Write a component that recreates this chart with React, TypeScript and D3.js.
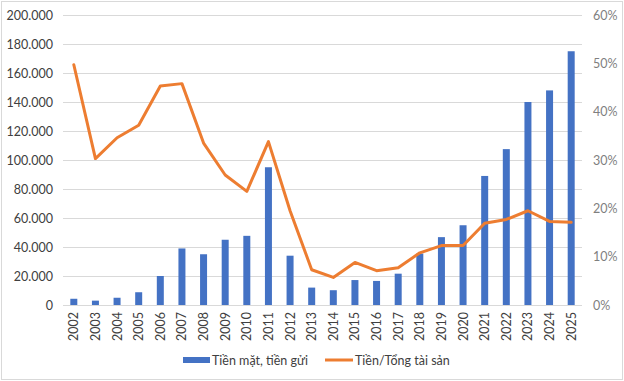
import React from "react";
import * as d3 from "d3";

const years = ["2002","2003","2004","2005","2006","2007","2008","2009","2010","2011","2012","2013","2014","2015","2016","2017","2018","2019","2020","2021","2022","2023","2024","2025"];
const cashValues = [4300, 3000, 5000, 8800, 20000, 39000, 35000, 45000, 47700, 95000, 34000, 12000, 10200, 17200, 16600, 21600, 35500, 46800, 55000, 89000, 107500, 140000, 148000, 175000];
const ratioValues = [49.7, 30.3, 34.6, 37.2, 45.3, 45.8, 33.5, 26.9, 23.5, 33.8, 19.5, 7.3, 5.7, 8.8, 7.1, 7.7, 10.8, 12.3, 12.3, 16.9, 17.7, 19.5, 17.3, 17.1];
const leftTicks = [0, 20000, 40000, 60000, 80000, 100000, 120000, 140000, 160000, 180000, 200000];
const rightTicks = [0, 10, 20, 30, 40, 50, 60];
const barLabel = "Tiền mặt, tiền gửi";
const lineLabel = "Tiền/Tổng tài sản";

const W = 624, H = 381;
const left = 63, right = 582, top = 15, bottom = 305;
const font = "Lato, 'Open Sans', sans-serif";

export default function App() {
  const x = d3.scaleBand<string>().domain(years).range([left, right]).paddingInner(0).paddingOuter(0);
  const yL = d3.scaleLinear().domain([0, 200000]).range([bottom, top]);
  const yR = d3.scaleLinear().domain([0, 60]).range([bottom, top]);
  const bw = 7;
  const fmt = (v: number) => d3.format(",")(v).replace(/,/g, ".");
  const line = d3.line<number>()
    .x((_, i) => (x(years[i]) as number) + x.bandwidth() / 2)
    .y((d) => yR(d));
  return (
    <svg width={W} height={H} style={{ position: "absolute", left: 0, top: 0 }}>
      <rect x={0} y={0} width={W} height={H} fill="#fff" />
      <rect x={1.5} y={1.5} width={W - 3} height={H - 3} fill="none" stroke="#D9D9D9" strokeWidth={1} />
      {leftTicks.map((t) => (
        <line key={"g" + t} x1={left} x2={right} y1={Math.round(yL(t)) + 0.5} y2={Math.round(yL(t)) + 0.5} stroke="#D9D9D9" strokeWidth={1} />
      ))}
      {leftTicks.map((t) => (
        <text key={"l" + t} x={53} y={yL(t) + 4.5} textAnchor="end" fontFamily={font} fontSize={12.5} fill="#404040">{fmt(t)}</text>
      ))}
      {rightTicks.map((t) => (
        <text key={"r" + t} x={593} y={yR(t) + 4.5} textAnchor="start" fontFamily={font} fontSize={12.5} fill="#7F7F7F">{t + "%"}</text>
      ))}
      {years.map((yr, i) => (
        <rect key={"b" + yr} x={(x(yr) as number) + x.bandwidth() / 2 - bw / 2} y={yL(cashValues[i])} width={bw} height={bottom - yL(cashValues[i])} fill="#4472C4" />
      ))}
      <path d={line(ratioValues) || ""} fill="none" stroke="#ED7D31" strokeWidth={3} strokeLinejoin="round" strokeLinecap="round" />
      {years.map((yr) => {
        const cx = (x(yr) as number) + x.bandwidth() / 2;
        return (
          <text key={"x" + yr} transform={`translate(${cx + 4.5},${312}) rotate(-90)`} textAnchor="end" fontFamily={font} fontSize={12.5} fill="#404040">{yr}</text>
        );
      })}
      <rect x={183} y={357} width={27} height={6} fill="#4472C4" />
      <text x={212} y={365} fontFamily={font} fontSize={12.5} fill="#404040">{barLabel}</text>
      <line x1={325} x2={353} y1={360} y2={360} stroke="#ED7D31" strokeWidth={3} />
      <text x={355} y={365} fontFamily={font} fontSize={12.5} fill="#404040">{lineLabel}</text>
    </svg>
  );
}
